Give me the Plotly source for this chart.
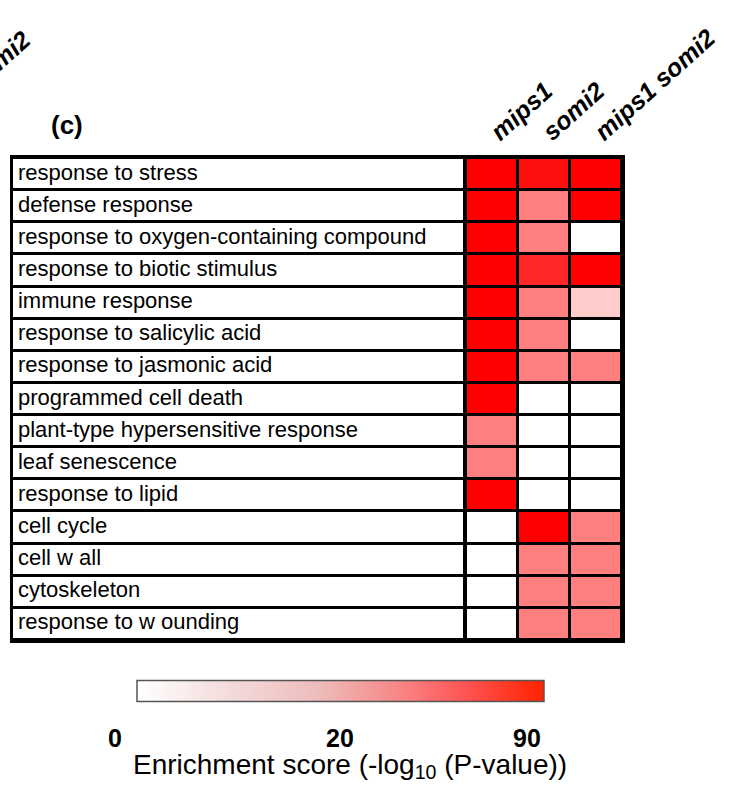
import plotly.graph_objects as go

# ---------------- data ----------------
terms = [
    "response to stress",
    "defense response",
    "response to oxygen-containing compound",
    "response to biotic stimulus",
    "immune response",
    "response to salicylic acid",
    "response to jasmonic acid",
    "programmed cell death",
    "plant-type hypersensitive response",
    "leaf senescence",
    "response to lipid",
    "cell cycle",
    "cell w all",
    "cytoskeleton",
    "response to w ounding",
]
genotypes = ["mips1", "somi2", "mips1 somi2"]

# enrichment scores (-log10 P), per genotype
score_mips1 = [90, 90, 90, 90, 90, 90, 90, 90, 25, 25, 90, 0, 0, 0, 0]
score_somi2 = [82, 25, 25, 70, 25, 25, 25, 0, 0, 0, 0, 90, 25, 25, 25]
score_double = [90, 90, 0, 90, 10, 0, 25, 0, 0, 0, 0, 25, 25, 25, 25]

cbar_ticks = ["0", "20", "90"]
cbar_title = "Enrichment score (-log<sub>10</sub> (P-value))"
panel_label = "(c)"
neighbour_header = "mips1 somi2"

# ---------------- figure ----------------
W, H = 747, 798
FONT = "Arial, Liberation Sans, sans-serif"

def px_x(p):
    return p / W

def px_y(p):
    return 1 - p / H

z = [[a, b, c] for a, b, c in zip(score_mips1, score_somi2, score_double)]

cell_scale = [[0, "#FFFFFF"], [10 / 90, "#FFCCCC"], [25 / 90, "#FF7F7F"], [1, "#FF0000"]]
bar_scale = [[0, "#FFFFFF"], [0.25, "#F2D8D8"], [0.45, "#EEBBBB"], [0.65, "#F88484"],
             [0.8, "#FF5656"], [1, "#FF2200"]]

fig = go.Figure()

# label column (white cells)
fig.add_trace(go.Heatmap(
    z=[[0] for _ in terms], x=[0.5], y=terms,
    colorscale=[[0, "white"], [1, "white"]], showscale=False,
    ygap=3, xgap=0, hoverinfo="skip", xaxis="x", yaxis="y"))

fig.add_trace(go.Scatter(
    x=[0.011] * len(terms), y=terms, mode="text", text=terms,
    textposition="middle right",
    textfont=dict(family=FONT, size=22, color="black"),
    hoverinfo="skip", showlegend=False, xaxis="x", yaxis="y"))

# enrichment heatmap
fig.add_trace(go.Heatmap(
    z=z, x=genotypes, y=terms, zmin=0, zmax=90,
    colorscale=cell_scale, showscale=False,
    xgap=3, ygap=3, hoverinfo="skip", xaxis="x2", yaxis="y"))

# colour bar legend
fig.add_trace(go.Scatter(
    x=[None], y=[None], mode="markers", showlegend=False, hoverinfo="skip",
    marker=dict(color=[0], cmin=0, cmax=1, colorscale=bar_scale, showscale=True,
                colorbar=dict(orientation="h", x=px_x(340.5), xanchor="center",
                              y=px_y(703), yanchor="bottom", xpad=0, ypad=0,
                              lenmode="pixels", len=407, thicknessmode="pixels",
                              thickness=21, outlinecolor="#555555", outlinewidth=1.5,
                              showticklabels=False, ticks="")),
    xaxis="x", yaxis="y"))

tbl_top, tbl_bot = 158, 640
fig.update_layout(
    width=W, height=H,
    margin=dict(l=0, r=0, t=0, b=0, autoexpand=False),
    paper_bgcolor="white", plot_bgcolor="black",
    xaxis=dict(domain=[px_x(13), px_x(466)], range=[0, 1], showticklabels=False,
               showgrid=False, zeroline=False, showline=True, mirror=True,
               linecolor="black", linewidth=3, ticks="", fixedrange=True),
    xaxis2=dict(domain=[px_x(466), px_x(622)], anchor="y", side="top",
                showgrid=False, zeroline=False, showline=True, mirror=True,
                linecolor="black", linewidth=3, ticks="", tickangle=-42,
                tickfont=dict(family=FONT, size=25, color="black",
                              weight="bold", style="italic")),
    yaxis=dict(domain=[px_y(tbl_bot), px_y(tbl_top)], range=[len(terms) - 0.5, -0.5],
               showticklabels=False, showgrid=False, zeroline=False,
               showline=True, mirror="all", linecolor="black", linewidth=3,
               ticks=""),
    showlegend=False,
)

anns = []
anns.append(dict(text=panel_label, x=px_x(67), y=px_y(125), xref="paper", yref="paper",
                 showarrow=False, xanchor="center", yanchor="middle",
                 font=dict(family=FONT, size=26, color="black", weight="bold")))
anns.append(dict(text=neighbour_header, x=px_x(39), y=px_y(22), xref="paper", yref="paper",
                 showarrow=False, xanchor="right", yanchor="top", textangle=-42,
                 font=dict(family=FONT, size=25, color="black", weight="bold",
                           style="italic")))
for lbl, xc in zip(cbar_ticks, [115, 340, 527]):
    anns.append(dict(text=lbl, x=px_x(xc), y=px_y(738), xref="paper", yref="paper",
                     showarrow=False, xanchor="center", yanchor="middle",
                     height=20, valign="middle", borderpad=0,
                     font=dict(family=FONT, size=25, color="black", weight="bold")))
anns.append(dict(text=cbar_title, x=px_x(350), y=px_y(766), xref="paper", yref="paper",
                 showarrow=False, xanchor="center", yanchor="middle",
                 height=28, valign="middle", borderpad=0,
                 font=dict(family=FONT, size=28, color="black")))
fig.update_layout(annotations=anns)

fig.write_html("out.html", config={"displayModeBar": False},
               post_script="document.body.style.margin='0';")
